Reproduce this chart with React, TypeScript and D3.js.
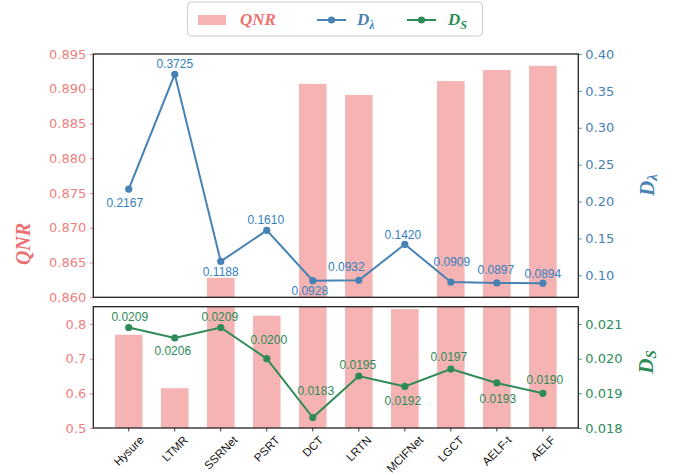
import React, { useEffect, useRef } from 'react';
import * as d3 from 'd3';

// Methods compared
const categories = ['Hysure', 'LTMR', 'SSRNet', 'PSRT', 'DCT', 'LRTN', 'MCIFNet', 'LGCT', 'AELF-t', 'AELF'];
// QNR per method (bars, split over two panels)
const qnr = [0.769, 0.615, 0.8628, 0.824, 0.8907, 0.8891, 0.843, 0.8911, 0.8927, 0.8933];
// Spectral distortion D_lambda (top panel line)
const dLambda = [0.2167, 0.3725, 0.1188, 0.161, 0.0928, 0.0932, 0.142, 0.0909, 0.0897, 0.0894];
// Spatial distortion D_S (bottom panel line)
const dS = [0.0209, 0.0206, 0.0209, 0.02, 0.0183, 0.0195, 0.0192, 0.0197, 0.0193, 0.019];

// Tick values
const qnrTopTicks = [0.86, 0.865, 0.87, 0.875, 0.88, 0.885, 0.89, 0.895];
const qnrBottomTicks = [0.5, 0.6, 0.7, 0.8];
const dLambdaTicks = [0.1, 0.15, 0.2, 0.25, 0.3, 0.35, 0.4];
const dSTicks = [0.018, 0.019, 0.02, 0.021];

// Value-label offsets (px) relative to each marker
const dLambdaLabelOffsets: [number, number][] = [
  [-4, 14], [0, -10], [0, 11], [-1, -10], [-3, 10], [-12.5, -13.5], [-2, -9], [1, -20], [-1, -12.7], [0, -9.6],
];
const dSLabelOffsets: [number, number][] = [
  [1, -10], [-2, 12.7], [-1, -10], [2, -18.7], [3, -27], [-1, -11], [-2, 14.3], [-2, -11.7], [1, 16], [2, -13.3],
];

const W = 680;
const H = 475;
const LEFT = 93.3;
const RIGHT = 578.3;
const TOP1 = 54;
const BOT1 = 297.3;
const TOP2 = 306.7;
const BOT2 = 428;

const BAR = 'lightcoral';
const BLUE = '#4682b4';
const BLUE_TXT = '#347fc0';
const GREEN = '#2e8b57';
const PINK_TXT = '#f08080';
const TICK_FONT = 'DejaVu Sans, sans-serif';
const LABEL_FONT = 'Liberation Sans, Arial, sans-serif';
const SERIF = 'Liberation Serif, Times New Roman, serif';

export default function App() {
  const ref = useRef<SVGSVGElement | null>(null);

  useEffect(() => {
    document.body.style.margin = '0';
    const svg = d3.select(ref.current!);
    svg.selectAll('*').remove();

    const x = d3.scaleBand<string>().domain(categories).range([LEFT, RIGHT]).paddingInner(0.4).paddingOuter(0.47);
    const cx = (c: string) => (x(c) as number) + x.bandwidth() / 2;

    const yQTop = d3.scaleLinear().domain([0.86, 0.895]).range([BOT1, TOP1]);
    const yQBot = d3.scaleLinear().domain([0.5, 0.85]).range([BOT2, TOP2]);
    const yDL = d3.scaleLinear().domain([0.0702, 0.4]).range([BOT1, TOP1]);
    const yDS = d3.scaleLinear().domain([0.018, 0.0215]).range([BOT2, TOP2]);

    const defs = svg.append('defs');
    defs.append('clipPath').attr('id', 'clipTop')
      .append('rect').attr('x', LEFT).attr('y', TOP1).attr('width', RIGHT - LEFT).attr('height', BOT1 - TOP1);
    defs.append('clipPath').attr('id', 'clipBot')
      .append('rect').attr('x', LEFT).attr('y', TOP2).attr('width', RIGHT - LEFT).attr('height', BOT2 - TOP2);

    const data = categories.map((c, i) => ({ c, q: qnr[i], dl: dLambda[i], ds: dS[i], i }));

    // ---------- top panel ----------
    const gTop = svg.append('g').attr('clip-path', 'url(#clipTop)');
    gTop.selectAll('rect.bar').data(data).join('rect')
      .attr('x', (d) => x(d.c) as number)
      .attr('width', x.bandwidth())
      .attr('y', (d) => Math.min(yQTop(d.q), BOT1 + 1))
      .attr('height', (d) => Math.max(0, BOT1 + 1 - yQTop(d.q)))
      .attr('fill', BAR).attr('fill-opacity', 0.6);

    const lineTop = d3.line<any>().x((d) => cx(d.c)).y((d) => yDL(d.dl));
    gTop.append('path').datum(data).attr('d', lineTop)
      .attr('fill', 'none').attr('stroke', BLUE).attr('stroke-width', 2);
    gTop.selectAll('circle').data(data).join('circle')
      .attr('cx', (d) => cx(d.c)).attr('cy', (d) => yDL(d.dl)).attr('r', 3.6).attr('fill', BLUE);

    svg.append('g').selectAll('text').data(data).join('text')
      .attr('x', (d) => cx(d.c) + dLambdaLabelOffsets[d.i][0])
      .attr('y', (d) => yDL(d.dl) + dLambdaLabelOffsets[d.i][1])
      .attr('text-anchor', 'middle').attr('dominant-baseline', 'central')
      .attr('font-family', LABEL_FONT).attr('font-size', 12).attr('fill', BLUE_TXT)
      .text((d) => d.dl.toFixed(4));

    // ---------- bottom panel ----------
    const gBot = svg.append('g').attr('clip-path', 'url(#clipBot)');
    gBot.selectAll('rect.bar').data(data).join('rect')
      .attr('x', (d) => x(d.c) as number)
      .attr('width', x.bandwidth())
      .attr('y', (d) => Math.max(yQBot(d.q), TOP2 - 1))
      .attr('height', (d) => BOT2 - Math.max(yQBot(d.q), TOP2 - 1))
      .attr('fill', BAR).attr('fill-opacity', 0.6);

    const lineBot = d3.line<any>().x((d) => cx(d.c)).y((d) => yDS(d.ds));
    gBot.append('path').datum(data).attr('d', lineBot)
      .attr('fill', 'none').attr('stroke', GREEN).attr('stroke-width', 2);
    gBot.selectAll('circle').data(data).join('circle')
      .attr('cx', (d) => cx(d.c)).attr('cy', (d) => yDS(d.ds)).attr('r', 3.6).attr('fill', GREEN);

    svg.append('g').selectAll('text').data(data).join('text')
      .attr('x', (d) => cx(d.c) + dSLabelOffsets[d.i][0])
      .attr('y', (d) => yDS(d.ds) + dSLabelOffsets[d.i][1])
      .attr('text-anchor', 'middle').attr('dominant-baseline', 'central')
      .attr('font-family', LABEL_FONT).attr('font-size', 12).attr('fill', GREEN)
      .text((d) => d.ds.toFixed(4));

    // ---------- axes ----------
    const styleAxis = (g: any, color: string) => {
      g.select('.domain').remove();
      g.selectAll('.tick line').attr('stroke', color).attr('stroke-width', 0.9);
      g.selectAll('.tick text').attr('fill', color).attr('font-family', TICK_FONT).attr('font-size', 13);
    };

    styleAxis(svg.append('g').attr('transform', `translate(${LEFT},0)`)
      .call(d3.axisLeft(yQTop).tickValues(qnrTopTicks).tickFormat(d3.format('.3f')).tickSizeOuter(0).tickSize(3.5).tickPadding(3.5)), PINK_TXT);
    styleAxis(svg.append('g').attr('transform', `translate(${LEFT},0)`)
      .call(d3.axisLeft(yQBot).tickValues(qnrBottomTicks).tickFormat(d3.format('.1f')).tickSizeOuter(0).tickSize(3.5).tickPadding(3.5)), PINK_TXT);
    styleAxis(svg.append('g').attr('transform', `translate(${RIGHT},0)`)
      .call(d3.axisRight(yDL).tickValues(dLambdaTicks).tickFormat(d3.format('.2f')).tickSizeOuter(0).tickSize(3.5).tickPadding(3.5)), BLUE);
    styleAxis(svg.append('g').attr('transform', `translate(${RIGHT},0)`)
      .call(d3.axisRight(yDS).tickValues(dSTicks).tickFormat(d3.format('.3f')).tickSizeOuter(0).tickSize(3.5).tickPadding(3.5)), GREEN);

    // x ticks on bottom panel
    const gx = svg.append('g');
    categories.forEach((c) => {
      gx.append('line').attr('x1', cx(c)).attr('x2', cx(c)).attr('y1', BOT2).attr('y2', BOT2 + 3.5)
        .attr('stroke', '#222').attr('stroke-width', 0.9);
      const t = gx.append('text').text(c)
        .attr('text-anchor', 'middle').attr('dominant-baseline', 'central')
        .attr('font-family', LABEL_FONT).attr('font-size', 11.5).attr('fill', '#111');
      const w = (t.node() as SVGTextElement).getComputedTextLength();
      const yc = 435 + (w + 8.5) * 0.3536;
      t.attr('transform', `translate(${cx(c)},${yc}) rotate(-45)`);
    });

    // frames
    [[TOP1, BOT1], [TOP2, BOT2]].forEach(([t, b]) => {
      svg.append('rect').attr('x', LEFT).attr('y', t).attr('width', RIGHT - LEFT).attr('height', b - t)
        .attr('fill', 'none').attr('stroke', '#222').attr('stroke-width', 1.3);
    });

    // axis titles
    svg.append('text').attr('transform', 'translate(23,244) rotate(-90)')
      .attr('text-anchor', 'middle').attr('dominant-baseline', 'central')
      .attr('font-family', SERIF).attr('font-weight', 'bold').attr('font-style', 'italic')
      .attr('font-size', 20).attr('fill', '#ee6f6f').text('QNR');

    const subLabel = (xx: number, yy: number, main: string, sub: string, color: string) => {
      const t = svg.append('text').attr('transform', `translate(${xx},${yy}) rotate(-90)`)
        .attr('text-anchor', 'middle').attr('dominant-baseline', 'central')
        .attr('font-family', SERIF).attr('font-weight', 'bold').attr('font-style', 'italic')
        .attr('font-size', 21).attr('fill', color);
      t.append('tspan').text(main);
      t.append('tspan').attr('font-size', 15).attr('dy', 5).text(sub);
    };
    subLabel(647, 185, 'D', 'λ', BLUE);
    subLabel(646, 362, 'D', 'S', GREEN);

    // ---------- legend ----------
    const lg = svg.append('g');
    lg.append('rect').attr('x', 187.5).attr('y', 2).attr('width', 295).attr('height', 34).attr('rx', 4)
      .attr('fill', '#fff').attr('stroke', '#cccccc').attr('stroke-width', 1);
    lg.append('rect').attr('x', 198).attr('y', 15).attr('width', 28).attr('height', 10)
      .attr('fill', BAR).attr('fill-opacity', 0.6);
    const legText = (xx: number, main: string, sub: string | null, color: string) => {
      const t = lg.append('text').attr('x', xx).attr('y', 25)
        .attr('font-family', SERIF).attr('font-weight', 'bold').attr('font-style', 'italic')
        .attr('font-size', 17).attr('fill', color);
      t.append('tspan').text(main);
      if (sub) t.append('tspan').attr('font-size', 12).attr('dy', 4).text(sub);
    };
    legText(240, 'QNR', null, '#ee6f6f');
    lg.append('line').attr('x1', 317).attr('x2', 346).attr('y1', 20).attr('y2', 20).attr('stroke', BLUE).attr('stroke-width', 2);
    lg.append('circle').attr('cx', 331.5).attr('cy', 20).attr('r', 3.6).attr('fill', BLUE);
    legText(357, 'D', 'λ', BLUE);
    lg.append('line').attr('x1', 407).attr('x2', 436).attr('y1', 20).attr('y2', 20).attr('stroke', GREEN).attr('stroke-width', 2);
    lg.append('circle').attr('cx', 421.5).attr('cy', 20).attr('r', 3.6).attr('fill', GREEN);
    legText(448, 'D', 'S', GREEN);
  }, []);

  return <svg ref={ref} width={W} height={H} style={{ display: 'block', background: '#fff' }} />;
}
